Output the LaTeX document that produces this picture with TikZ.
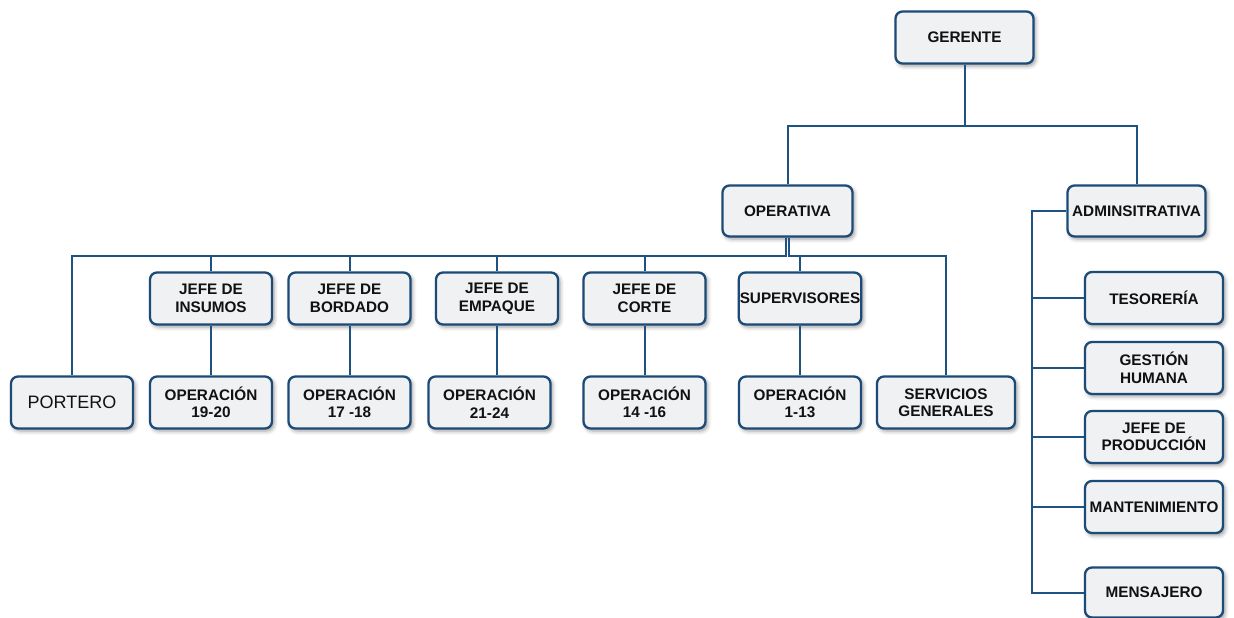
\documentclass[tikz,border=0pt]{standalone}
\usepackage{fontspec}
\setmainfont{Liberation Sans}
\usetikzlibrary{shadows.blur}
\definecolor{edge}{HTML}{1B4B76}
\definecolor{wire}{HTML}{1D5382}
\definecolor{boxfill}{HTML}{F0F1F3}
\definecolor{ink}{HTML}{111111}
\begin{document}
\begin{tikzpicture}[x=1pt,y=-1pt,
  orgbox/.style={draw=edge, line width=2.3pt, fill=boxfill, rounded corners=7pt,
    minimum width=122pt, minimum height=52pt, inner sep=1pt, align=center,
    text=ink, font=\fontsize{15.3}{17.5}\selectfont\bfseries,
    blur shadow={shadow xshift=2pt, shadow yshift=-2.5pt, shadow blur radius=4pt, shadow opacity=40}},
  widebox/.style={orgbox, minimum width=138pt},
  link/.style={draw=wire, line width=2pt}]
\useasboundingbox (0,0) rectangle (1234,618);

% top levels
\node[widebox] (ger) at (964.5,37.5) {GERENTE};
\node[orgbox, minimum width=130pt, minimum height=51pt] (op) at (787.5,211) {OPERATIVA};
\node[widebox, minimum height=51pt] (adm) at (1136.5,211) {ADMINSITRATIVA};

% operative chiefs
\node[orgbox] (ins) at (211,298.5) {JEFE DE\\INSUMOS};
\node[orgbox] (bor) at (349.5,298.5) {JEFE DE\\BORDADO};
\node[orgbox] (emp) at (497,298.5) {JEFE DE\\EMPAQUE};
\node[orgbox] (cor) at (644.5,298.5) {JEFE DE\\CORTE};
\node[orgbox] (sup) at (800,298.5) {SUPERVISORES};

% operations row
\node[orgbox, font=\fontsize{18}{21}\selectfont] (por) at (72,402.5) {PORTERO};
\node[orgbox] (o1920) at (211,402.5) {OPERACIÓN\\19-20};
\node[orgbox] (o1718) at (349.5,402.5) {OPERACIÓN\\17 -18};
\node[orgbox] (o2124) at (489.5,402.5) {OPERACIÓN\\21-24};
\node[orgbox] (o1416) at (644.5,402.5) {OPERACIÓN\\14 -16};
\node[orgbox] (o113) at (800,402.5) {OPERACIÓN\\1-13};
\node[widebox] (ser) at (946,402.5) {SERVICIOS\\GENERALES};

% administrative column
\node[widebox] (tes) at (1154,298) {TESORERÍA};
\node[widebox] (ges) at (1154,368) {GESTIÓN\\HUMANA};
\node[widebox] (pro) at (1154,437) {JEFE DE\\PRODUCCIÓN};
\node[widebox] (man) at (1154,507) {MANTENIMIENTO};
\node[widebox, minimum height=50pt] (men) at (1154,592.5) {MENSAJERO};

% connectors
\draw[link] (ger.south) -- ++(0,61) -| (op.north);
\draw[link] (ger.south) -- ++(0,61) -| (adm.north);
\foreach \t in {por,ins,bor,emp,cor}
  \draw[link] ([xshift=-1.5pt]op.south) -- ++(0,18) -| (\t.north);
\foreach \t in {sup,ser}
  \draw[link] ([xshift=1.5pt]op.south) -- ++(0,18) -| (\t.north);
\draw[link] (ins.south) -- (o1920.north);
\draw[link] (bor.south) -- (o1718.north);
\draw[link] (emp.south) -- (emp.south |- o2124.north);
\draw[link] (cor.south) -- (o1416.north);
\draw[link] (sup.south) -- (o113.north);
\foreach \t in {tes,ges,pro,man,men}
  \draw[link] (adm.west) -- ++(-34,0) |- (\t.west);
\end{tikzpicture}
\end{document}
